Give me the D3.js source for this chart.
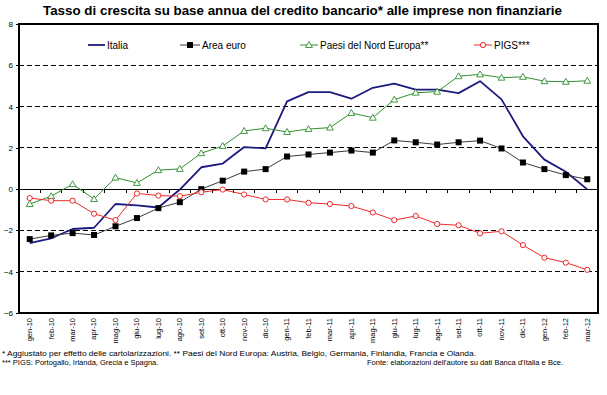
<!DOCTYPE html>
<html>
<head>
<meta charset="utf-8">
<script src="https://cdn.jsdelivr.net/npm/d3@7/dist/d3.min.js"></script>
<style>
  html, body { margin: 0; padding: 0; background: #fff; }
  svg { display: block; font-family: "Liberation Sans", Arial, sans-serif; }
</style>
</head>
<body>
<svg id="chart" width="607" height="395"></svg>
<script>
const categories = ["gen-10","feb-10","mar-10","apr-10","mag-10","giu-10","lug-10","ago-10","set-10","ott-10","nov-10","dic-10",
  "gen-11","feb-11","mar-11","apr-11","mag-11","giu-11","lug-11","ago-11","set-11","ott-11","nov-11","dic-11",
  "gen-12","feb-12","mar-12"];
const italia = [-2.62,-2.38,-1.93,-1.87,-0.72,-0.79,-0.89,-0.02,1.06,1.24,2.04,1.97,
  4.25,4.70,4.70,4.38,4.91,5.11,4.82,4.82,4.65,5.23,4.35,2.56,1.43,0.84,-0.01];
const areaEuro = [-2.42,-2.24,-2.13,-2.22,-1.80,-1.40,-0.92,-0.63,0.00,0.41,0.85,0.97,
  1.58,1.68,1.77,1.87,1.77,2.36,2.27,2.16,2.27,2.35,1.97,1.29,0.97,0.68,0.48];
const nordEuropa = [-0.72,-0.34,0.24,-0.48,0.56,0.30,0.92,0.98,1.74,2.09,2.82,2.95,
  2.77,2.91,2.98,3.69,3.46,4.34,4.67,4.72,5.47,5.56,5.40,5.44,5.23,5.20,5.25];
const pigs = [-0.43,-0.56,-0.56,-1.19,-1.50,-0.21,-0.31,-0.34,-0.15,-0.02,-0.26,-0.50,
  -0.50,-0.66,-0.72,-0.82,-1.13,-1.50,-1.30,-1.69,-1.75,-2.14,-2.04,-2.71,-3.32,-3.56,-3.91];
const yTicks = [-6,-4,-2,0,2,4,6,8];
const gridValues = [-4,-2,2,4,6];

const title = "Tasso di crescita su base annua del credito bancario* alle imprese non finanziarie";
const note1 = "* Aggiustato per effetto delle cartolarizzazioni. ** Paesi del Nord Europa: Austria, Belgio, Germania, Finlandia, Francia e Olanda.";
const note2 = "*** PIGS: Portogallo, Irlanda, Grecia e Spagna.";
const note3 = "Fonte: elaborazioni dell'autore su dati Banca d'Italia e Bce.";

const series = [
  {name: "Italia", values: italia, color: "#1c1a7e", width: 1.8, marker: "none"},
  {name: "Area euro", values: areaEuro, color: "#3a3a3a", width: 1, marker: "square", mcolor: "#000"},
  {name: "Paesi del Nord Europa**", values: nordEuropa, color: "#2f8f2f", width: 1, marker: "triangle", mcolor: "#2f8f2f"},
  {name: "PIGS***", values: pigs, color: "#f02828", width: 1, marker: "circle", mcolor: "#f02828"}
];

const svg = d3.select("#chart");
const L = 19, R = 598, T = 24, B = 313;

const x = d3.scaleBand().domain(categories).range([L, R]).padding(0);
const y = d3.scaleLinear().domain([-6, 8]).range([B, T]);
const cx = d => x(d) + x.bandwidth() / 2;

// title
svg.append("text").attr("x", 302.5).attr("y", 15).attr("text-anchor", "middle")
  .attr("font-size", 13.5).attr("font-weight", "bold")
  .attr("textLength", 519).attr("lengthAdjust", "spacingAndGlyphs")
  .text(title);

// gridlines
svg.append("g").selectAll("line").data(gridValues).join("line")
  .attr("x1", L).attr("x2", R).attr("y1", d => y(d)).attr("y2", d => y(d))
  .attr("stroke", "#000").attr("stroke-width", 1).attr("stroke-dasharray", "5,3")
  .attr("shape-rendering", "crispEdges");

// frame
svg.append("rect").attr("x", L).attr("y", T).attr("width", R - L).attr("height", B - T)
  .attr("fill", "none").attr("stroke", "#000").attr("stroke-width", 1.2)
  .attr("shape-rendering", "crispEdges");

// y axis
const yAxis = d3.axisLeft(y).tickValues(yTicks).tickSize(3).tickPadding(3).tickFormat(d3.format("d"));
const gy = svg.append("g").attr("transform", `translate(${L},0)`).call(yAxis);
gy.select(".domain").remove();
gy.selectAll("text").attr("font-size", 8).attr("font-family", "Liberation Sans, Arial, sans-serif").attr("fill", "#000");
gy.selectAll("line").attr("shape-rendering", "crispEdges");

// zero axis with ticks between categories
const zeroY = y(0);
const gx0 = svg.append("g");
gx0.append("line").attr("x1", L).attr("x2", R).attr("y1", zeroY).attr("y2", zeroY)
  .attr("stroke", "#000").attr("stroke-width", 1).attr("shape-rendering", "crispEdges");
gx0.selectAll("line.tk").data(categories.slice(1)).join("line").attr("class", "tk")
  .attr("x1", d => x(d)).attr("x2", d => x(d)).attr("y1", zeroY).attr("y2", zeroY + 4)
  .attr("stroke", "#000").attr("stroke-width", 1).attr("shape-rendering", "crispEdges");

// x labels at bottom
const xAxis = d3.axisBottom(x).tickSize(0).tickPadding(0);
const gx = svg.append("g").attr("transform", `translate(0,${B})`).call(xAxis);
gx.select(".domain").remove();
gx.selectAll("text")
  .attr("font-size", 7.5).attr("font-family", "Liberation Sans, Arial, sans-serif").attr("fill", "#000")
  .attr("text-anchor", "end").attr("dy", "0.32em").attr("dx", 0)
  .attr("transform", "translate(0,5) rotate(-90)").attr("y", 0).attr("x", 0);

// series
const line = d3.line().x((d, i) => cx(categories[i])).y(d => y(d));
const gs = svg.append("g");
function drawMarker(g, type, px, py, col) {
  if (type === "square") {
    g.append("rect").attr("x", px - 3).attr("y", py - 3).attr("width", 6).attr("height", 6).attr("fill", col);
  } else if (type === "triangle") {
    g.append("path").attr("d", d3.symbol().type(d3.symbolTriangle).size(20)())
      .attr("transform", `translate(${px},${py + 0.5})`).attr("fill", "#fff").attr("stroke", col).attr("stroke-width", 0.9);
  } else if (type === "circle") {
    g.append("circle").attr("cx", px).attr("cy", py).attr("r", 2.6)
      .attr("fill", "#fff").attr("stroke", col).attr("stroke-width", 1);
  }
}
series.forEach(s => {
  gs.append("path").datum(s.values).attr("d", line).attr("fill", "none")
    .attr("stroke", s.color).attr("stroke-width", s.width).attr("stroke-linejoin", "round");
  if (s.marker !== "none") {
    const mg = gs.append("g");
    s.values.forEach((v, i) => drawMarker(mg, s.marker, cx(categories[i]), y(v), s.mcolor));
  }
});

// legend
const legendItems = [
  {s: series[0], x1: 88, x2: 105, tx: 107},
  {s: series[1], x1: 180, x2: 200, tx: 202},
  {s: series[2], x1: 300, x2: 318, tx: 320},
  {s: series[3], x1: 474, x2: 492, tx: 494}
];
const lg = svg.append("g");
const ly = 45;
legendItems.forEach(it => {
  lg.append("line").attr("x1", it.x1).attr("x2", it.x2).attr("y1", ly).attr("y2", ly)
    .attr("stroke", it.s.color).attr("stroke-width", it.s.width);
  if (it.s.marker !== "none") drawMarker(lg, it.s.marker, (it.x1 + it.x2) / 2, ly, it.s.mcolor);
  lg.append("text").attr("x", it.tx).attr("y", ly).attr("dy", "0.35em")
    .attr("font-size", 10).attr("fill", "#000").text(it.s.name);
});

// footnotes
svg.append("text").attr("x", 2).attr("y", 356).attr("font-size", 7.5).attr("fill", "#000")
  .attr("textLength", 474).attr("lengthAdjust", "spacingAndGlyphs").text(note1);
svg.append("text").attr("x", 2).attr("y", 365).attr("font-size", 7.5).attr("fill", "#000").text(note2);
svg.append("text").attr("x", 367).attr("y", 365).attr("font-size", 7.5).attr("fill", "#000")
  .attr("textLength", 196).attr("lengthAdjust", "spacingAndGlyphs").text(note3);
</script>
</body>
</html>
